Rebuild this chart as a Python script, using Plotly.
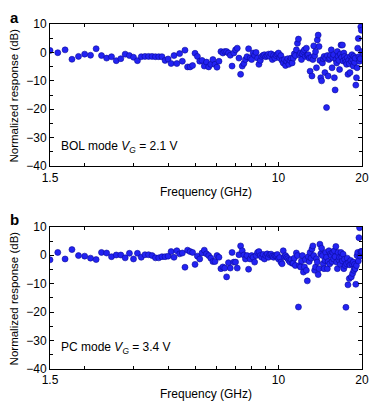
import math
import plotly.graph_objects as go

FREQ_GHZ = [
    1.5, 1.6, 1.7, 1.8, 1.9, 2.0, 2.1, 2.2, 2.3, 2.4,
    2.5, 2.6, 2.7, 2.8, 2.9, 3.0, 3.1, 3.2, 3.3, 3.4,
    3.5, 3.6, 3.7, 3.8, 3.9, 4.0, 4.1, 4.2, 4.3, 4.4,
    4.5, 4.6, 4.7, 4.8, 4.9, 5.0, 5.1, 5.2, 5.3, 5.4,
    5.5, 5.6, 5.7, 5.8, 5.9, 6.0, 6.1, 6.2, 6.3, 6.4,
    6.5, 6.6, 6.7, 6.8, 6.9, 7.0, 7.1, 7.2, 7.3, 7.4,
    7.5, 7.6, 7.7, 7.8, 7.9, 8.0, 8.1, 8.2, 8.3, 8.4,
    8.5, 8.6, 8.7, 8.8, 8.9, 9.0, 9.1, 9.2, 9.3, 9.4,
    9.5, 9.6, 9.7, 9.8, 9.9, 10.0, 10.1, 10.2, 10.3, 10.4,
    10.5, 10.6, 10.7, 10.8, 10.9, 11.0, 11.1, 11.2, 11.3, 11.4,
    11.5, 11.6, 11.7, 11.8, 11.9, 12.0, 12.1, 12.2, 12.3, 12.4,
    12.5, 12.6, 12.7, 12.8, 12.9, 13.0, 13.1, 13.2, 13.3, 13.4,
    13.5, 13.6, 13.7, 13.8, 13.9, 14.0, 14.1, 14.2, 14.3, 14.4,
    14.5, 14.6, 14.7, 14.8, 14.9, 15.0, 15.1, 15.2, 15.3, 15.4,
    15.5, 15.6, 15.7, 15.8, 15.9, 16.0, 16.1, 16.2, 16.3, 16.4,
    16.5, 16.6, 16.7, 16.8, 16.9, 17.0, 17.1, 17.2, 17.3, 17.4,
    17.5, 17.6, 17.7, 17.8, 17.9, 18.0, 18.1, 18.2, 18.3, 18.4,
    18.5, 18.6, 18.7, 18.8, 18.9, 19.0, 19.1, 19.2, 19.3, 19.4,
    19.5, 19.6, 19.7, 19.8, 19.9, 20.0,
]

RESP_BOL_DB = [
    0.7, -0.1, 0.9, -2.4, -1.4, -0.6, -1.0, 1.3, -1.1, -2.0,
    -1.5, -2.9, -2.2, -0.6, -1.1, -1.7, -2.9, -1.5, -1.4, -1.4,
    -1.4, -1.5, -1.5, -1.5, -2.8, -2.3, -3.9, -1.1, -3.9, -0.4,
    -3.1, 0.8, -5.1, -5.1, -4.6, -0.3, -1.4, -3.1, -2.8, -4.8,
    -3.4, -5.1, -4.2, -2.5, -4.2, -5.2, -3.1, 0.3, -0.2, 0.3,
    0.3, -0.2, -1.0, -4.8, -0.2, 0.9, 1.5, -2.0, -7.7, -4.8,
    -3.9, -2.5, -1.5, 1.3, -2.0, -2.5, -0.2, -1.0, 0.0, -2.0,
    -4.2, -2.8, -1.4, -1.0, -0.8, -1.5, -1.1, -0.6, -1.4, -0.5,
    -2.5, -1.0, -2.0, -1.1, -0.6, -0.2, -2.0, -1.1, -2.8, -3.7,
    -2.5, -4.6, -3.1, -2.2, -4.2, -2.8, -2.0, -3.7, -2.0, -0.5,
    -1.1, 0.9, 3.2, 4.7, -0.8, -0.2, -2.5, -0.5, 0.3, 0.9,
    -1.4, 1.5, -1.0, -0.8, -2.0, -6.6, -1.8, -8.3, -2.5, 2.3,
    -1.2, 0.3, -5.4, 4.4, 6.1, 2.1, -2.8, -8.9, -10.0, -3.7,
    -2.2, -1.4, -7.1, -2.0, -19.4, -1.1, -8.3, -2.5, -2.0, -1.0,
    0.9, -5.4, -1.8, -0.8, -8.9, -13.2, -2.5, -3.7, 0.3, -1.4,
    -2.8, -6.0, -0.6, 2.6, -1.7, 2.6, -3.0, -0.2, -1.4, -2.5,
    -3.4, -4.2, -1.8, -7.7, -2.8, -4.0, -7.1, -1.4, -3.1, -0.8,
    -2.5, -4.8, -1.4, -3.5, -2.0, -11.5, -8.9, -5.4, 1.5, 4.9,
    -1.5, -3.1, -2.2, 9.0, 7.8, 0.3,
]

RESP_PC_DB = [
    -1.6, 1.0, -1.3, 2.0, -0.1, -0.3, -1.0, -1.5, 1.0, 0.8,
    -0.5, 0.1, 0.1, -0.9, 0.7, -1.3, 0.7, -0.7, 0.2, 0.2,
    -0.1, -0.9, -0.9, -0.5, -0.5, -0.3, 1.3, -0.7, 1.6, 0.5,
    0.8, -4.2, 1.8, 1.3, 1.0, -3.2, -0.3, -1.3, 0.8, 1.8,
    0.5, -0.1, -1.0, -2.2, -2.2, -0.1, -0.7, -4.7, -4.1, -4.5,
    -7.6, -2.6, -4.5, 1.0, -2.4, -2.4, -4.5, 0.2, 3.3, 1.6,
    0.1, -1.3, -0.1, -4.9, -1.3, -0.1, -0.7, -2.4, -0.1, 1.0,
    1.3, -0.1, -0.7, 0.3, -1.3, -0.1, 0.5, -0.7, 0.2, 0.4,
    -0.3, -0.7, -0.1, -0.1, 0.3, -1.3, -0.8, -2.4, -3.0, 1.6,
    -0.5, -0.1, -0.7, -1.2, -1.8, -2.4, -1.5, -2.8, -2.8, -1.0,
    -3.6, 0.8, -0.1, -18.2, -3.6, -4.1, -2.0, -0.1, -5.9, -4.1,
    -1.5, -5.3, -9.0, -0.5, -2.2, 1.0, -1.0, 2.2, 3.3, -0.1,
    -5.3, -4.1, -1.2, -2.4, -6.8, -4.7, 3.9, 0.5, 2.5, -0.1,
    -3.0, -4.7, -1.8, 1.0, -0.7, -4.7, -2.2, 1.6, -3.0, 0.5,
    -0.1, -2.2, 1.0, -1.3, 1.6, -0.5, 3.1, -2.4, -4.7, 1.0,
    -1.6, -0.7, -3.2, 1.0, -0.7, -2.0, 0.4, -4.7, -1.4, -3.6,
    -18.3, -3.0, -1.0, -10.4, -2.6, -8.2, -3.4, -1.8, -7.6, -3.0,
    -6.4, -2.4, -5.3, -3.2, -4.7, -10.2, -3.6, -0.1, 1.0, -2.0,
    6.2, 9.7, -0.3, 1.3, 1.3, 1.3,
]

X_TICKVALS = [1.5, 10, 20]
X_TICKTEXT = ["1.5", "10", "20"]
X_MINOR = [2, 3, 4, 5, 6, 7, 8, 9]
Y_TICKVALS = [10, 0, -10, -20, -30, -40]

FONT = "Liberation Sans, Arial, sans-serif"
MARKER = dict(size=6, color="#2323f2", line=dict(width=0.6, color="#0a0a9a"))

# The page body adds an 8 px offset; all pixel positions below are
# reference pixel positions minus that offset.
OFF = 8
W, H = 378 - OFF, 408 - OFF
PL, PT, PW, PH = 50 - OFF, 17 - OFF, 316, 352


def px(x):
    return (x - OFF - PL) / PW


def py(y):
    return 1 - (y - OFF - PT) / PH


fig = go.Figure()
fig.add_trace(go.Scatter(x=FREQ_GHZ, y=RESP_BOL_DB, mode="markers", marker=MARKER,
                         xaxis="x", yaxis="y", showlegend=False, cliponaxis=True))
fig.add_trace(go.Scatter(x=FREQ_GHZ, y=RESP_PC_DB, mode="markers", marker=MARKER,
                         xaxis="x2", yaxis="y2", showlegend=False, cliponaxis=True))

xax = dict(type="log", range=[math.log10(1.5), math.log10(20)],
           tickmode="array", tickvals=X_TICKVALS, ticktext=X_TICKTEXT,
           ticks="inside", ticklen=4, tickwidth=1, tickcolor="black",
           showline=True, linecolor="black", linewidth=1, mirror="allticks",
           showgrid=False, zeroline=False,
           minor=dict(tickvals=X_MINOR, ticks="inside", ticklen=3, tickcolor="black", showgrid=False),
           tickfont=dict(family=FONT, size=12, color="black"))
yax = dict(range=[-40, 10], tickmode="array", tickvals=Y_TICKVALS,
           ticks="inside", ticklen=4, tickwidth=1, tickcolor="black",
           showline=True, linecolor="black", linewidth=1, mirror="allticks",
           showgrid=False, zeroline=False,
           minor=dict(dtick=5, tick0=0, ticks="inside", ticklen=3, tickcolor="black", showgrid=False),
           tickfont=dict(family=FONT, size=12, color="black"))

fig.update_layout(
    width=W, height=H,
    margin=dict(l=PL, r=W - PL - PW, t=PT, b=H - PT - PH),
    paper_bgcolor="white", plot_bgcolor="white",
    xaxis=dict(xax, anchor="y", domain=[0, 1]),
    yaxis=dict(yax, anchor="x", domain=[0.588, 1.0]),
    xaxis2=dict(xax, anchor="y2", domain=[0, 1]),
    yaxis2=dict(yax, anchor="x2", domain=[0.0, 0.412]),
    font=dict(family=FONT, size=12, color="black"),
)

annotations = [
    dict(text="<b>a</b>", x=px(7), y=py(10), xref="paper", yref="paper", showarrow=False,
         xanchor="left", yanchor="middle", font=dict(family=FONT, size=15)),
    dict(text="<b>b</b>", x=px(7), y=py(216), xref="paper", yref="paper", showarrow=False,
         xanchor="left", yanchor="middle", font=dict(family=FONT, size=15)),
    dict(text="Normalized response (dB)", x=px(13.5), y=py(90), xref="paper", yref="paper",
         showarrow=False, textangle=-90, xanchor="center", yanchor="middle", borderpad=0,
         font=dict(family=FONT, size=11.5)),
    dict(text="Normalized response (dB)", x=px(13.5), y=py(297), xref="paper", yref="paper",
         showarrow=False, textangle=-90, xanchor="center", yanchor="middle", borderpad=0,
         font=dict(family=FONT, size=11.5)),
    dict(text="Frequency (GHz)", x=px(208), y=py(188), xref="paper", yref="paper",
         showarrow=False, xanchor="center", yanchor="middle", font=dict(family=FONT, size=12)),
    dict(text="Frequency (GHz)", x=px(208), y=py(395), xref="paper", yref="paper",
         showarrow=False, xanchor="center", yanchor="middle", font=dict(family=FONT, size=12)),
    dict(text="BOL mode <i>V</i><sub><i>G</i></sub> = 2.1 V", x=px(59), y=py(143),
         xref="paper", yref="paper", showarrow=False, xanchor="left", yanchor="middle",
         font=dict(family=FONT, size=12)),
    dict(text="PC mode <i>V</i><sub><i>G</i></sub> = 3.4 V", x=px(59), y=py(348),
         xref="paper", yref="paper", showarrow=False, xanchor="left", yanchor="middle",
         font=dict(family=FONT, size=12)),
]
fig.update_layout(annotations=annotations)

fig.write_html("out.html")
